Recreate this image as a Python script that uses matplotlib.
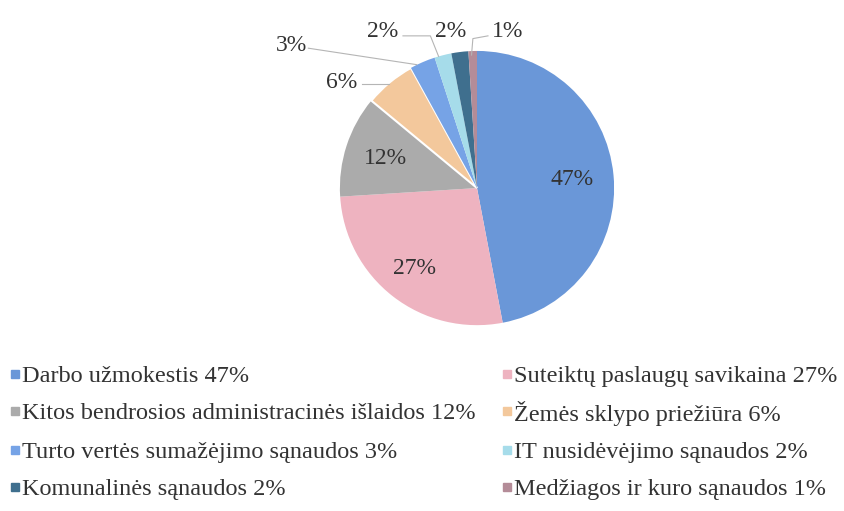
import matplotlib.pyplot as plt
import numpy as np
from matplotlib.lines import Line2D

plt.rcParams['font.family'] = ['Liberation Serif', 'DejaVu Serif']

# data
labels = [
    'Darbo užmokestis',
    'Suteiktų paslaugų savikaina',
    'Kitos bendrosios administracinės išlaidos',
    'Žemės sklypo priežiūra',
    'Turto vertės sumažėjimo sąnaudos',
    'IT nusidėvėjimo sąnaudos',
    'Komunalinės sąnaudos',
    'Medžiagos ir kuro sąnaudos',
]
shares = [47, 27, 12, 6, 3, 2, 2, 1]
colors = ['#6a97d8', '#eeb3c0', '#ababab', '#f3c89c',
          '#76a3e6', '#a6dcea', '#3f6f8e', '#b48c98']

# label spots for the small slices (data units, radius = 1)
outside_pos = {3: (-0.99, 0.77), 4: (-1.35, 1.04), 5: (-0.69, 1.14),
               6: (-0.19, 1.14), 7: (0.22, 1.14)}
# leader lines, ending on the rim
leaders = {
    3: [(-0.84, 0.76), (-0.64, 0.76)],
    4: [(-1.23, 1.02), (-0.44, 0.90)],
    5: [(-0.54, 1.11), (-0.34, 1.11), (-0.28, 0.96)],
    7: [(0.08, 1.11), (-0.03, 1.09), (-0.04, 0.97)],
}

fig = plt.figure(figsize=(8.45, 5.11), dpi=100)
ax = fig.add_axes([0.399, 0.358, 0.331, 0.548])

wedges, _ = ax.pie(shares, colors=colors, startangle=90, counterclock=False,
                   radius=1.0, wedgeprops=dict(linewidth=0))
wedges[3].set_edgecolor('white')
wedges[3].set_linewidth(1.5)

for i, (w, v) in enumerate(zip(wedges, shares)):
    mid = np.deg2rad((w.theta1 + w.theta2) / 2)
    if i < 3:
        r = 0.74 if i == 1 else 0.7
        tx, ty = r * np.cos(mid), r * np.sin(mid)
    else:
        tx, ty = outside_pos[i]
    ax.text(tx, ty, f'{v}%', ha='center', va='center',
            fontsize=17, color='#333333')
    if i in leaders:
        xs, ys = zip(*leaders[i])
        ax.plot(xs, ys, color='#b5b5b5', lw=0.8, clip_on=False)

ax.set_xlim(-1.02, 1.02)
ax.set_ylim(-1.02, 1.02)
ax.set_aspect('equal')
ax.axis('off')

# legend, two columns
col_x = [0.018, 0.600]
row_y = [0.268, 0.195, 0.120, 0.047]
for k, (l, v) in enumerate(zip(labels, shares)):
    x = col_x[k % 2]
    y = row_y[k // 2]
    fig.add_artist(Line2D([x], [y], marker='s', markersize=5.5, linestyle='',
                          color=colors[k], transform=fig.transFigure))
    fig.text(x + 0.008, y, f'{l} {v}%', ha='left', va='center_baseline',
             fontsize=17.5, color='#333333')

fig.savefig('out.png', dpi=100)
